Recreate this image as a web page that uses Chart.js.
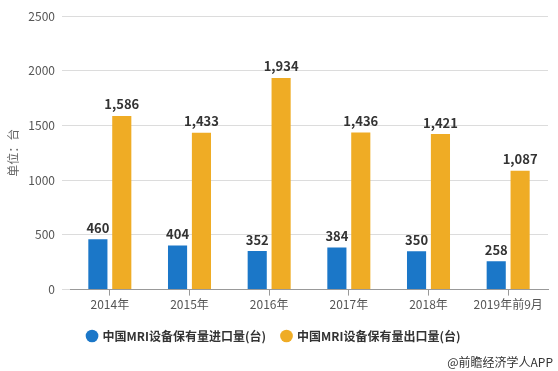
<!DOCTYPE html>
<html>
<head>
<meta charset="utf-8">
<script src="https://cdn.jsdelivr.net/npm/chart.js@4/dist/chart.umd.min.js"></script>
<style>
  html, body { margin: 0; padding: 0; background: #fff; }
  #wrap { width: 558px; height: 371px; position: relative; }
</style>
</head>
<body>
<div id="wrap"><canvas id="grafico"></canvas></div>
<script>
  // dados do gráfico
  const anos = ["2014年", "2015年", "2016年", "2017年", "2018年", "2019年前9月"];
  const importacao = [460, 404, 352, 384, 350, 258];
  const exportacao = [1586, 1433, 1934, 1436, 1421, 1087];
  const yTicks = [0, 500, 1000, 1500, 2000, 2500];

  const FONTE = "'Noto Sans CJK SC', 'Noto Sans', sans-serif";

  // rótulos em cima das barras
  const rotulos = {
    id: "rotulos",
    afterDatasetsDraw(chart) {
      const ctx = chart.ctx;
      ctx.save();
      ctx.font = "bold 13px " + FONTE;
      ctx.fillStyle = "#333";
      ctx.textAlign = "center";
      ctx.textBaseline = "bottom";
      chart.data.datasets.forEach((ds, i) => {
        chart.getDatasetMeta(i).data.forEach((bar, j) => {
          ctx.fillText(ds.data[j].toLocaleString("en-US"), bar.x, bar.y - 5);
        });
      });
      ctx.restore();
    }
  };

  // fonte no canto
  const fonteTexto = {
    id: "fonteTexto",
    afterDraw(chart) {
      const ctx = chart.ctx;
      ctx.save();
      ctx.font = "12px " + FONTE;
      ctx.fillStyle = "#333";
      ctx.textAlign = "right";
      ctx.textBaseline = "middle";
      ctx.fillText("@前瞻经济学人APP", 553, 362);
      ctx.restore();
    }
  };

  new Chart(document.getElementById("grafico"), {
    type: "bar",
    data: {
      labels: anos,
      datasets: [
        {
          label: "中国MRI设备保有量进口量(台)",
          data: importacao,
          backgroundColor: "#1b77c8",
          categoryPercentage: 0.6,
          barPercentage: 0.8
        },
        {
          label: "中国MRI设备保有量出口量(台)",
          data: exportacao,
          backgroundColor: "#efac25",
          categoryPercentage: 0.6,
          barPercentage: 0.8
        }
      ]
    },
    options: {
      responsive: true,
      maintainAspectRatio: false,
      animation: false,
      layout: { padding: { top: 16, right: 10, bottom: 19, left: 0 } },
      plugins: {
        tooltip: { enabled: false },
        legend: {
          position: "bottom",
          labels: {
            usePointStyle: true,
            pointStyle: "circle",
            boxWidth: 9,
            boxHeight: 9,
            padding: 16,
            color: "#333",
            font: { family: FONTE, size: 12, weight: "bold" }
          }
        }
      },
      scales: {
        x: {
          grid: {
            drawOnChartArea: false,
            offset: false,
            tickLength: 6,
            color: "#999"
          },
          border: { color: "#999" },
          ticks: {
            padding: 2,
            color: "#555",
            font: { family: FONTE, size: 12 }
          }
        },
        y: {
          min: 0,
          max: 2500,
          afterBuildTicks(scale) {
            scale.ticks = yTicks.map(v => ({ value: v }));
          },
          afterFit(scale) {
            scale.width = 70;
          },
          grid: { color: "#dcdcdc", tickLength: 8 },
          border: { display: false },
          ticks: {
            padding: 7,
            color: "#555",
            font: { family: FONTE, size: 12 },
            callback: v => String(v)
          },
          title: {
            display: true,
            text: "单位：台",
            color: "#666",
            padding: { top: 6, bottom: 0 },
            font: { family: FONTE, size: 12 }
          }
        }
      }
    },
    plugins: [rotulos, fonteTexto]
  });
</script>
</body>
</html>
